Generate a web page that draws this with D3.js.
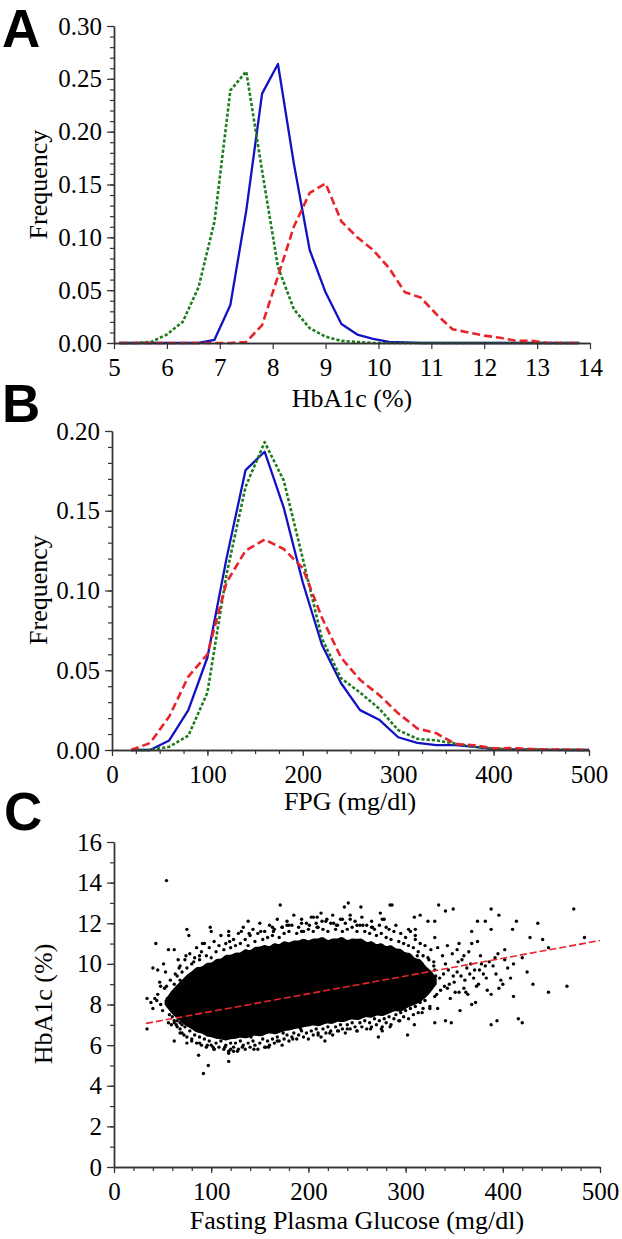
<!DOCTYPE html>
<html><head><meta charset="utf-8">
<script src="https://cdn.jsdelivr.net/npm/d3@7"></script>
<style>body{margin:0;background:#fff}svg{display:block}</style>
</head><body>
<script>
// ---------- Panel A: HbA1c distributions ----------
const hbX = [5.1,5.4,5.7,6.0,6.3,6.6,6.9,7.2,7.5,7.8,8.1,8.4,8.7,9.0,9.3,9.6,9.9,10.2,10.5,10.8,11.1,11.4,11.7,12.0,12.3,12.6,12.9,13.2,13.5,13.8];
const hbBlue  = [0,0,0,0,0,0,0.003,0.036,0.125,0.236,0.264,0.170,0.088,0.048,0.018,0.008,0.004,0.001,0.0005,0,0,0,0,0,0,0,0,0,0,0];
const hbGreen = [0,0,0.001,0.008,0.020,0.053,0.115,0.239,0.257,0.163,0.072,0.032,0.014,0.006,0.002,0.001,0,0,0,0,0,0,0,0,0,0,0,0,0,0];
const hbRed   = [0,0,0,0,0,0,0,0,0.001,0.017,0.063,0.110,0.142,0.151,0.115,0.100,0.088,0.071,0.048,0.043,0.027,0.013,0.010,0.007,0.005,0.002,0.002,0,0,0];
const hbTicks = [5,6,7,8,9,10,11,12,13,14];
const freqTicksA = [0,0.05,0.10,0.15,0.20,0.25,0.30];

// ---------- Panel B: FPG distributions ----------
const fpgX = [20,40,60,80,100,120,140,160,180,200,220,240,260,280,300,320,340,360,380,400,420,440,460,480,500];
const fpgBlue  = [0,0,0.006,0.025,0.058,0.120,0.1755,0.187,0.152,0.105,0.066,0.042,0.025,0.019,0.008,0.0045,0.003,0.003,0.002,0.0005,0.0003,0.0002,0.0001,0,0];
const fpgGreen = [0,0,0.002,0.009,0.036,0.110,0.165,0.193,0.169,0.120,0.070,0.045,0.036,0.026,0.0125,0.007,0.006,0.004,0.002,0.001,0.0005,0.0003,0.0002,0.0001,0];
const fpgRed   = [0,0.0044,0.021,0.046,0.060,0.105,0.125,0.132,0.126,0.114,0.083,0.058,0.044,0.0345,0.023,0.0135,0.0105,0.0037,0.003,0.001,0.0012,0.0006,0.0003,0.0002,0];
const fpgTicks = [0,100,200,300,400,500];
const freqTicksB = [0,0.05,0.10,0.15,0.20];

// ---------- Panel C: scatter ----------
const scTicksX = [0,100,200,300,400,500];
const scTicksY = [0,2,4,6,8,10,12,14,16];
// dense (solid) core of the cloud, per FPG bin
const coreX  = [52,58,65,70,75,80,85,90,95,100,105,110,115,120,125,130,135,140,145,150,155,160,165,170,175,180,185,190,195,200,205,210,215,220,225,230,235,240,245,250,255,260,265,270,275,280,285,290,295,300,305,310,315,320,326,332];
const coreHi = [8.2,8.6,9.0,9.2,9.5,9.6,9.9,9.8,10.1,10.0,10.3,10.2,10.5,10.4,10.6,10.5,10.8,10.6,10.9,10.8,11.0,10.8,11.1,10.9,11.2,11.0,11.2,11.1,11.3,11.1,11.3,11.2,11.4,11.1,11.3,11.2,11.4,11.1,11.3,11.2,11.3,11.0,11.2,10.9,11.1,10.8,11.0,10.7,10.8,10.5,10.6,10.2,10.3,9.9,9.7,9.3];
const coreLo = [8.0,7.6,7.3,7.1,6.9,6.8,6.6,6.6,6.4,6.4,6.3,6.3,6.2,6.3,6.3,6.4,6.3,6.4,6.5,6.4,6.5,6.6,6.5,6.6,6.7,6.7,6.8,6.8,6.9,6.9,7.0,6.9,7.0,7.1,7.0,7.2,7.1,7.2,7.3,7.2,7.3,7.4,7.3,7.5,7.4,7.5,7.6,7.7,7.6,7.8,7.9,8.0,8.1,8.3,8.6,9.0];
// points along the upper edge of the cloud [FPG, HbA1c]
const scTop = [[65,9.4],[68,9.9],[70,9.6],[73,10.2],[75,9.8],[78,10.5],[80,10.0],[83,10.3],[85,10.8],[88,10.2],[90,10.6],[93,11.0],[95,10.4],[98,10.8],[100,10.3],[103,11.1],[105,10.6],[108,10.9],[110,11.4],[113,10.7],[115,11.0],[118,11.6],[120,10.8],[123,11.2],[125,10.9],[128,11.5],[130,11.0],[133,11.8],[135,11.2],[138,10.9],[140,11.4],[143,11.7],[145,11.1],[148,11.5],[150,12.0],[153,11.2],[155,11.6],[158,11.3],[160,11.9],[163,11.4],[165,11.7],[168,12.2],[170,11.3],[173,11.8],[175,11.5],[178,12.1],[180,11.6],[183,11.9],[185,12.4],[188,11.5],[190,11.8],[193,12.2],[195,11.6],[198,12.0],[200,11.7],[203,12.3],[205,11.6],[208,12.0],[210,11.8],[213,12.5],[215,11.7],[218,12.1],[220,11.6],[223,12.0],[225,12.4],[228,11.7],[230,11.9],[233,12.2],[235,11.6],[238,12.0],[240,11.7],[243,12.4],[245,11.8],[248,12.1],[250,11.6],[253,11.9],[255,12.3],[258,11.6],[260,11.9],[263,11.5],[265,12.1],[268,11.7],[270,11.4],[273,11.9],[275,11.5],[278,12.2],[280,11.3],[283,11.7],[285,11.2],[288,11.6],[290,11.9],[293,11.1],[295,11.5],[298,11.0],[300,11.3],[303,10.9],[305,11.6],[308,10.8],[310,11.2],[313,10.6],[315,11.0],[318,10.4],[320,10.9],[323,10.3],[326,10.7],[329,10.1]];
// points along the lower edge of the cloud
const scBottom = [[62,7.2],[65,6.9],[68,7.1],[70,6.6],[73,6.9],[75,6.4],[78,6.7],[80,6.2],[83,6.5],[85,6.1],[88,6.4],[90,6.0],[93,6.3],[95,5.9],[98,6.2],[100,6.0],[103,5.8],[105,6.1],[108,5.9],[110,6.2],[113,5.8],[115,6.0],[118,5.7],[120,6.1],[123,5.9],[125,6.1],[128,5.8],[130,6.2],[133,6.0],[135,5.8],[138,6.1],[140,5.9],[143,6.2],[145,6.0],[148,5.8],[150,6.1],[153,6.3],[155,5.9],[158,6.2],[160,6.0],[163,6.3],[165,6.1],[168,6.4],[170,6.2],[173,6.0],[175,6.3],[178,6.5],[180,6.2],[183,6.4],[185,6.6],[188,6.3],[190,6.5],[193,6.7],[195,6.4],[198,6.6],[200,6.3],[203,6.7],[205,6.5],[208,6.8],[210,6.6],[213,6.4],[215,6.8],[218,6.6],[220,6.9],[223,6.7],[225,6.5],[228,6.9],[230,6.7],[233,7.0],[235,6.8],[238,6.6],[240,7.0],[243,6.8],[245,7.1],[248,6.9],[250,6.7],[253,7.1],[255,6.9],[258,7.2],[260,6.8],[263,7.1],[265,6.9],[268,7.3],[270,7.0],[273,7.2],[275,6.8],[278,7.3],[280,7.1],[283,7.4],[285,7.0],[288,7.3],[290,7.5],[293,7.2],[295,7.6],[298,7.4],[300,7.7],[303,7.3],[305,7.8],[308,7.5],[310,7.9],[313,7.6],[315,8.1],[318,7.8],[320,8.2],[325,7.9],[330,8.4]];
// scattered points and outliers
const scOther = [
[100,11.6],[118,11.4],[139,11.5],[151,11.6],[163,11.8],[178,11.9],[193,12.0],[205,12.3],[214,12.1],[226,12.0],[235,12.2],[250,11.9],[265,11.8],[280,11.8],[310,11.4],
[60,7.4],[64,7.0],[68,6.8],[72,6.5],[80,6.3],[88,6.1],[96,6.0],[102,5.9],[114,5.9],[120,5.8],[132,5.9],[141,6.4],[159,5.9],[174,6.6],[192,6.8],[210,6.5],[222,6.6],[240,6.8],[264,6.8],[276,6.9],
[45,8.5],[48,8.0],[50,7.7],[52,8.8],[55,8.3],[57,7.5],[58,9.2],[60,8.6],[63,9.5],[65,7.2],[40,7.8],[42,8.3],[47,9.1],[53,9.6],[56,7.1],[59,7.0],[67,9.8],[70,7.0],[62,10.7],[66,10.2],[74,10.4],[82,10.1],[88,10.4],[91,11.0],
[318,9.0],[322,9.5],[326,8.8],[329,9.9],[332,8.5],[335,9.3],[338,10.4],[340,8.9],[344,9.7],[346,8.3],[350,9.1],[354,10.1],[357,9.4],[360,8.8],[363,9.8],[365,10.6],[370,9.3],[373,8.9],[378,10.0],[380,9.5],[384,8.7],[390,9.9],[395,10.5],[398,9.2],[405,9.8],[420,10.3],[425,9.6],
[302,9.2],[305,10.1],[307,8.6],[309,9.6],[312,10.4],[314,8.9],[317,10.0],[319,8.4],[321,9.3],[324,10.2],[327,9.0],[330,9.7],[333,10.8],[336,8.7],[339,9.5],[341,10.0],[345,9.0],[348,10.5],[351,8.6],[353,9.6],[358,10.2],[361,9.2],[364,8.5],[367,10.0],[371,9.7],[375,9.0],[377,10.4],[383,9.3],[386,10.1],[393,9.5],[396,8.8],[402,10.2],[408,9.3],
[54,14.1],[171,12.9],[241,13.0],[237,12.8],[254,12.8],[284,12.9],[286,12.9],[334,12.9],[341,12.6],[349,12.7],[388,12.7],[396,12.4],[473,12.7],[484,11.3],[414,12.1],[436,12.0],[441,11.2],[428,11.3],[447,10.8],[410,11.7],[402,10.7],[388,11.7],[382,12.1],[374,12.1],[368,11.6],[392,10.3],[400,9.0],[431,9.0],[447,8.6],[466,8.9],[411,8.4],[388,8.5],[388,7.0],[394,7.2],[416,7.3],[420,7.1],[411,10.0],[356,7.7],[341,7.2],[347,7.1],[330,7.1],[302,6.5],[309,7.0],[368,8.0],[372,8.1],[362,8.6],[355,8.6],[333,7.8],[325,7.8],[317,7.6],[321,8.5],[315,8.9],[343,8.8],[349,9.4],[331,9.4],[366,9.5],[376,9.7],[382,9.9],[360,10.4],[353,10.7],[368,11.0],[374,11.1],[355,11.0],[343,10.9],[330,11.3],[330,12.1],[323,12.1],[315,12.4],[309,12.3],[310,11.7],[303,11.7],[274,12.5],[276,12.2],[266,11.8],[256,11.9],[243,12.2],[229,11.9],[219,12.2],[209,12.3],[201,11.9],[209,11.8],[193,11.6],[180,11.9],[173,11.8],[164,11.6],[138,12.1],[131,11.6],[119,11.1],[99,11.8],[75,11.7],[77,11.4],[56,10.7],[43,11.0],[40,9.8],[45,9.7],[51,10.0],[34,8.3],[34,6.8],[38,8.1],[44,8.2],[48,8.9],[54,8.9],[62,9.0],[68,9.2],[62,7.1],[68,6.6],[62,6.2],[75,6.1],[87,5.5],[97,5.0],[92,4.6],[118,5.2],[118,5.6],[123,5.7],[127,5.7],[103,5.8],[144,5.8],[156,5.9],[168,6.2],[184,6.3],[217,6.2],[231,6.7],[250,6.7],[272,6.4],[276,6.7],[284,6.9],[294,7.2]
];
// regression line endpoints
const fitX = [33, 500];
const fitY = [7.07, 11.15];

// ---------- drawing ----------
const W = 622, H = 1239;
const SERIF = "'Liberation Serif','Times New Roman',serif";
const svg = d3.select("body").append("svg").attr("width", W).attr("height", H)
  .style("font-family", SERIF);

const AX = "#333";
const COLORS = {blue: "#1212c4", green: "#1f7d1f", red: "#e8232a"};

function axes(x, y, xMajor, xMinor, yMajor, yMinor, yFmt, xFmt) {
  const [x0] = x.range();
  const [yb] = y.range();
  const g = svg.append("g");
  g.append("g").attr("transform", `translate(0,${yb})`)
    .call(d3.axisBottom(x).tickValues(xMinor).tickSize(4).tickSizeOuter(0).tickFormat(""));
  g.append("g").attr("transform", `translate(${x0},0)`)
    .call(d3.axisLeft(y).tickValues(yMinor).tickSize(4).tickSizeOuter(0).tickFormat(""));
  g.append("g").attr("transform", `translate(0,${yb})`)
    .call(d3.axisBottom(x).tickValues(xMajor).tickSize(6).tickSizeOuter(0).tickPadding(9).tickFormat(xFmt));
  g.append("g").attr("transform", `translate(${x0},0)`)
    .call(d3.axisLeft(y).tickValues(yMajor).tickSize(7).tickSizeOuter(0).tickPadding(5).tickFormat(yFmt));
  g.selectAll(".domain").attr("stroke", AX).attr("stroke-width", 1.4);
  g.selectAll(".tick line").attr("stroke", AX).attr("stroke-width", 1.2);
  g.selectAll("text").style("font-family", SERIF).style("font-size", "25px").attr("fill", "#000");
  return g;
}

function titles(xText, xc, xBase, yText, yBase, yc) {
  svg.append("text").attr("x", xc).attr("y", xBase).attr("text-anchor", "middle")
    .style("font-family", SERIF).style("font-size", "26px").text(xText);
  svg.append("text").attr("transform", `translate(${yBase},${yc}) rotate(-90)`)
    .attr("text-anchor", "middle").style("font-family", SERIF).style("font-size", "26px").text(yText);
}

function letter(t, x, y) {
  svg.append("text").attr("x", x).attr("y", y).text(t)
    .style("font-family", "'Liberation Sans',Arial,sans-serif")
    .style("font-weight", "bold").style("font-size", "53px").attr("fill", "#000");
}

function series(x, y, xs, ys, color, dash, width) {
  const line = d3.line().x((d, i) => x(xs[i])).y(d => y(d));
  svg.append("path").datum(ys).attr("d", line)
    .attr("fill", "none").attr("stroke", color).attr("stroke-width", width)
    .attr("stroke-dasharray", dash).attr("stroke-linejoin", "round");
}

// Panel A
const xA = d3.scaleLinear().domain([5, 14]).range([114, 590]);
const yA = d3.scaleLinear().domain([0, 0.30]).range([343, 26]);
series(xA, yA, hbX, hbBlue, COLORS.blue, null, 2.3);
series(xA, yA, hbX, hbGreen, COLORS.green, "3.2,2", 2.6);
series(xA, yA, hbX, hbRed, COLORS.red, "8,4", 2.6);
axes(xA, yA, hbTicks, [], freqTicksA, d3.range(0, 0.3001, 0.01), d3.format(".2f"), d3.format("d"));
titles("HbA1c (%)", 352, 407, "Frequency", 47, 184.5);
letter("A", 2, 47);

// Panel B
const xB = d3.scaleLinear().domain([0, 500]).range([112, 589]);
const yB = d3.scaleLinear().domain([0, 0.20]).range([750, 431]);
series(xB, yB, fpgX, fpgBlue, COLORS.blue, null, 2.3);
series(xB, yB, fpgX, fpgGreen, COLORS.green, "3.2,2", 2.6);
series(xB, yB, fpgX, fpgRed, COLORS.red, "8,4", 2.6);
axes(xB, yB, fpgTicks, d3.range(0, 501, 25), freqTicksB, d3.range(0, 0.2001, 0.01), d3.format(".2f"), d3.format("d"));
titles("FPG (mg/dl)", 350, 810, "Frequency", 47, 590);
letter("B", 2, 422);

// Panel C
const xC = d3.scaleLinear().domain([0, 500]).range([114, 600]);
const yC = d3.scaleLinear().domain([0, 16]).range([1167, 842]);
const core = coreX.map((v, i) => ({x: v, lo: coreLo[i], hi: coreHi[i]}));
svg.append("path").datum(core)
  .attr("d", d3.area().x(d => xC(d.x)).y0(d => yC(d.lo)).y1(d => yC(d.hi)).curve(d3.curveBasis))
  .attr("fill", "#000");
const allPts = scTop.concat(scBottom, scOther);
svg.append("g").selectAll("circle").data(allPts).join("circle")
  .attr("cx", d => xC(d[0])).attr("cy", d => yC(d[1])).attr("r", 1.7).attr("fill", "#000");
svg.append("line")
  .attr("x1", xC(fitX[0])).attr("y1", yC(fitY[0])).attr("x2", xC(fitX[1])).attr("y2", yC(fitY[1]))
  .attr("stroke", "#e8232a").attr("stroke-width", 1.6).attr("stroke-dasharray", "7,3");
axes(xC, yC, scTicksX, d3.range(0, 501, 20), scTicksY, d3.range(0, 16.01, 1), d3.format("d"), d3.format("d"));
titles("Fasting Plasma Glucose (mg/dl)", 357, 1229, "HbA1c (%)", 52, 1004);
letter("C", 4, 830);
</script>
</body></html>
